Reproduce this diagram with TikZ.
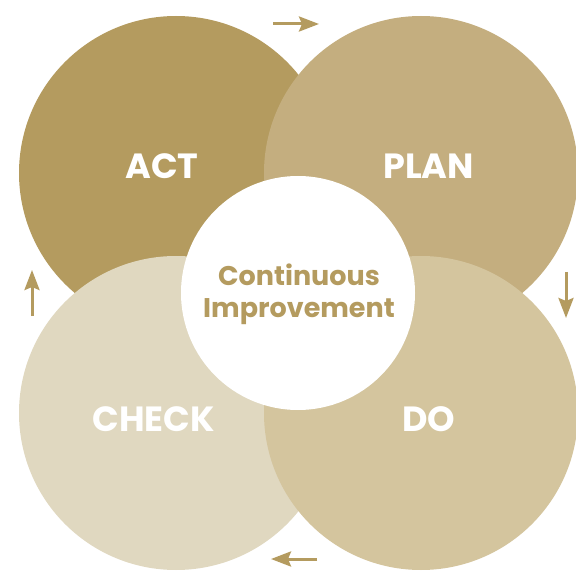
\documentclass[tikz,border=0pt]{standalone}
\usepackage{fontspec}
\setmainfont{Poppins}
\usetikzlibrary{arrows.meta}
\definecolor{actc}{HTML}{B49B5F}
\definecolor{planc}{HTML}{C4AE7F}
\definecolor{checkc}{HTML}{E0D8C0}
\definecolor{doc}{HTML}{D4C59E}
\definecolor{gold}{HTML}{B49B5F}
\tikzset{
  bigcirc/.style={circle, minimum size=314pt, inner sep=0pt, draw=none},
  lbl/.style={text=white, font=\fontsize{35}{37}\selectfont\bfseries, inner sep=0pt},
  flowarrow/.style={draw=gold, line width=3pt, -{Stealth[length=20pt, width=15pt, inset=3pt]}}
}
\begin{document}
\begin{tikzpicture}[x=1pt, y=-1pt]
\useasboundingbox (0,0) rectangle (576,572);
\clip (0,0) rectangle (576,572);
\node[bigcirc, fill=actc] (act) at (176,173) {};
\node[bigcirc, fill=planc] (plan) at (421,173) {};
\node[bigcirc, fill=checkc] (check) at (176,413) {};
\node[bigcirc, fill=doc] (do) at (421,413) {};
\node[circle, minimum size=234pt, inner sep=0pt, fill=white] (center) at (298,293) {};
\node[lbl] (actl) at (162,166) {ACT};
\node[lbl] (planl) at (428.5,166) {PLAN};
\node[lbl] (checkl) at (153.5,419) {CHECK};
\node[lbl] (dol) at (429,419) {DO};
\node[text=gold, font=\fontsize{27}{32}\selectfont\bfseries, align=center, inner sep=0pt] (ci) at (299,294) {Continuous\\Improvement};
\coordinate (t1) at (273,24); \coordinate (t2) at (319,24);
\coordinate (r1) at (566,272); \coordinate (r2) at (566,318);
\coordinate (b1) at (317,559); \coordinate (b2) at (271,559);
\coordinate (l1) at (32,316); \coordinate (l2) at (32,270);
\draw[flowarrow] (t1) -- (t2);
\draw[flowarrow] (r1) -- (r2);
\draw[flowarrow] (b1) -- (b2);
\draw[flowarrow] (l1) -- (l2);
\end{tikzpicture}
\end{document}
